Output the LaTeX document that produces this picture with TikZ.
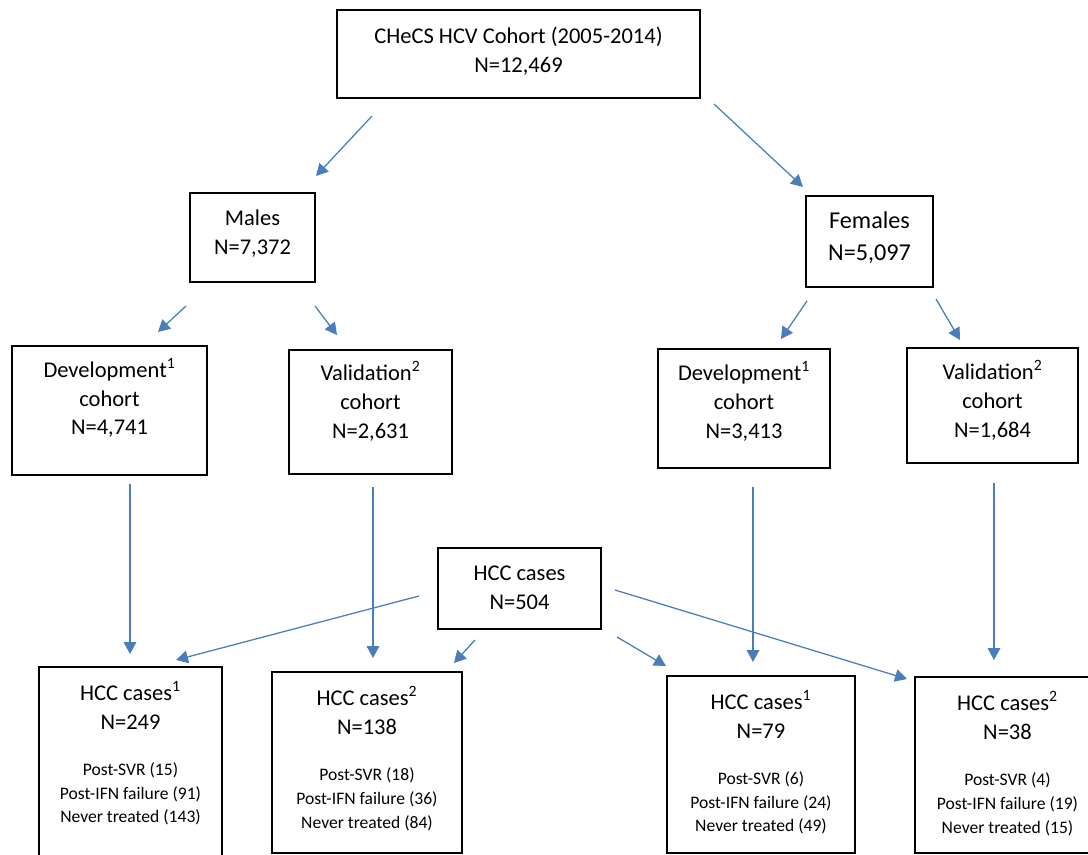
\documentclass[tikz,border=0pt]{standalone}
\usepackage{fontspec}
\setmainfont{Carlito}
\usetikzlibrary{arrows.meta,positioning}
\definecolor{Flow}{HTML}{4A7EBB}
\tikzset{
  box/.style={draw=black,line width=1pt,inner sep=0pt},
  big/.style={font=\fontsize{16}{20.6}\selectfont,align=center,inner sep=0pt},
  bigger/.style={font=\fontsize{17.2}{22.8}\selectfont,align=center,inner sep=0pt},
  small/.style={font=\fontsize{12.5}{17}\selectfont,align=center,inner sep=0pt},
  lift/.style={text depth=0pt,text height=#1},
  arr/.style={draw=Flow,line width=.9pt,-{Triangle[length=8.5pt,width=9pt]}}
}

\begin{document}
\begin{tikzpicture}[x=0.025cm,y=-0.025cm]
\useasboundingbox (0,0) rectangle (1088,855);
\clip (0,0) rectangle (1088,855);
% cohort and sex split
\node[box,big,lift=25.6pt,minimum width=9.075cm,minimum height=2.2cm] (top) at (518.5,54) {CHeCS HCV Cohort (2005-2014)\\N=12,469};
\node[box,big,lift=23.5pt,minimum width=3.125cm,minimum height=2.225cm] (males) at (252.5,237.5) {Males\\N=7,372};
\node[box,bigger,lift=27.7pt,minimum width=3.175cm,minimum height=2.275cm] (females) at (869.5,241.5) {Females\\N=5,097};
% development and validation
\node[box,big,lift=34.8pt,minimum width=4.875cm,minimum height=3.225cm] (devm) at (109.5,410.5) {Development\textsuperscript{1}\\cohort\\N=4,741};
\node[box,big,lift=37pt,minimum width=4.075cm,minimum height=3.1cm] (valm) at (370.5,412) {Validation\textsuperscript{2}\\cohort\\N=2,631};
\node[box,big,lift=42pt,minimum width=4.3cm,minimum height=2.975cm] (devf) at (744,408.5) {Development\textsuperscript{1}\\cohort\\N=3,413};
\node[box,big,lift=44.8pt,minimum width=4.275cm,minimum height=2.875cm] (valf) at (992.5,405.5) {Validation\textsuperscript{2}\\cohort\\N=1,684};
\node[box,big,lift=29.2pt,minimum width=4.075cm,minimum height=2.025cm] (hcc) at (519.5,588.5) {HCC cases\\N=504};
% HCC cases per cohort
\node[box,minimum width=4.575cm,minimum height=5.325cm] (hcm1) at (130.5,773.5) {};
\node[box,minimum width=4.75cm,minimum height=4.525cm] (hcm2) at (367,762.5) {};
\node[box,minimum width=4.7cm,minimum height=4.425cm] (hcf1) at (761,764.5) {};
\node[box,minimum width=4.625cm,minimum height=4.4cm] (hcf2) at (1007.5,765) {};
\node[big,below=0.38cm of hcm1.north] (hcm1t) {HCC cases\textsuperscript{1}\\N=249};
\node[big,below=0.38cm of hcm2.north] (hcm2t) {HCC cases\textsuperscript{2}\\N=138};
\node[big,below=0.38cm of hcf1.north] (hcf1t) {HCC cases\textsuperscript{1}\\N=79};
\node[big,below=0.38cm of hcf2.north] (hcf2t) {HCC cases\textsuperscript{2}\\N=38};
\node[small,below=0.8cm of hcm1t] (hcm1l) {Post-SVR (15)\\Post-IFN failure (91)\\Never treated (143)};
\node[small,below=0.8cm of hcm2t] (hcm2l) {Post-SVR (18)\\Post-IFN failure (36)\\Never treated (84)};
\node[small,below=0.8cm of hcf1t] (hcf1l) {Post-SVR (6)\\Post-IFN failure (24)\\Never treated (49)};
\node[small,below=0.8cm of hcf2t] (hcf2l) {Post-SVR (4)\\Post-IFN failure (19)\\Never treated (15)};
% arrow ends
\coordinate (topL) at (372,116);      \coordinate (malesT) at (316,176);
\coordinate (topR) at (714,104);      \coordinate (femalesT) at (803,187);
\coordinate (malesL) at (186,306);    \coordinate (devmT) at (158,332);
\coordinate (malesR) at (315,306);    \coordinate (valmT) at (337,335);
\coordinate (femalesL) at (807,301);  \coordinate (devfT) at (781,339);
\coordinate (femalesR) at (936,299);  \coordinate (valfT) at (960,340);
\coordinate (devmB) at (130,484);     \coordinate (hcm1T) at (130,654);
\coordinate (valmB) at (373,487);     \coordinate (hcm2T) at (373,658);
\coordinate (devfB) at (753,487);     \coordinate (hcf1T) at (753,662);
\coordinate (valfB) at (994,483);     \coordinate (hcf2T) at (994,660);
\coordinate (hccL) at (419,596);      \coordinate (hcm1R) at (176,660);
\coordinate (hccBL) at (475,640);     \coordinate (hcm2R) at (454,663);
\coordinate (hccBR) at (617,637);     \coordinate (hcf1L) at (666,666);
\coordinate (hccR) at (615,590);      \coordinate (hcf2L) at (907,679);
\foreach \a/\b in {topL/malesT,topR/femalesT,malesL/devmT,malesR/valmT,
  femalesL/devfT,femalesR/valfT,devmB/hcm1T,valmB/hcm2T,devfB/hcf1T,
  valfB/hcf2T,hccL/hcm1R,hccBL/hcm2R,hccBR/hcf1L,hccR/hcf2L}
  \draw[arr] (\a) -- (\b);
\end{tikzpicture}
\end{document}
